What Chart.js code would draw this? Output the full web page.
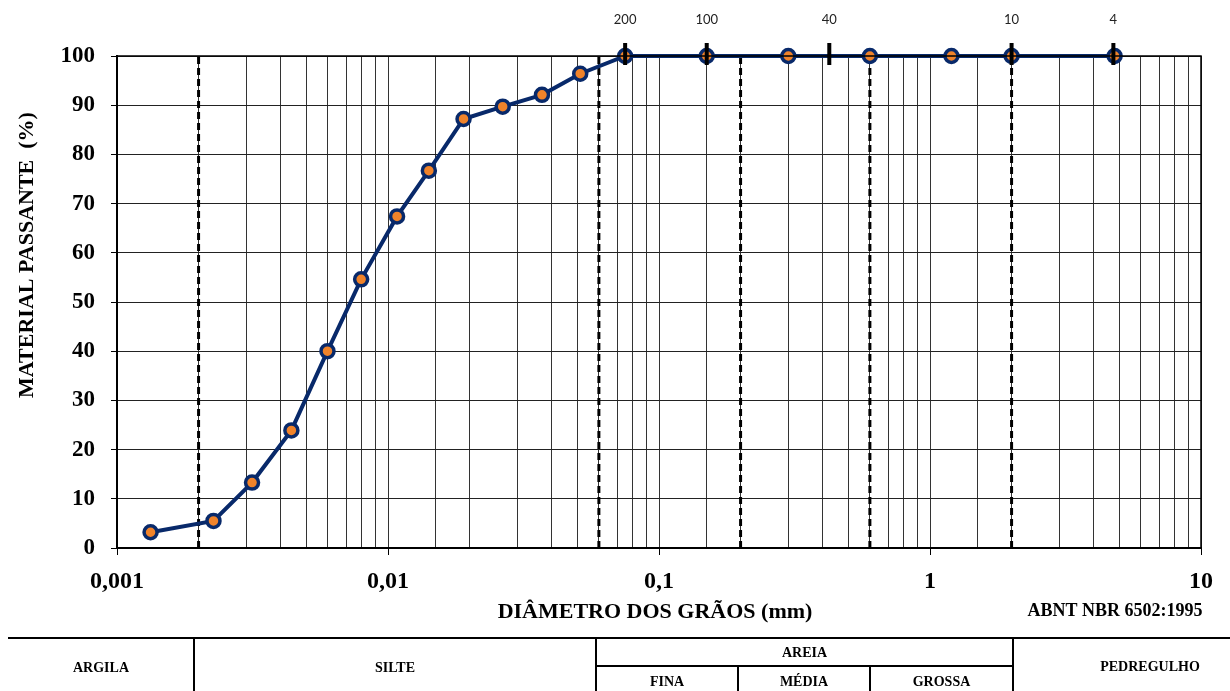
<!DOCTYPE html>
<html>
<head>
<meta charset="utf-8">
<script src="https://cdn.jsdelivr.net/npm/chart.js@4"></script>
<style>
  body { margin: 0; background: #fff; }
  #wrap { width: 1230px; height: 691px; }
</style>
</head>
<body>
<div id="wrap"><canvas id="curva" width="1230" height="691"></canvas></div>
<script>
// curva granulométrica - diâmetro (mm) x % passante
const diametros = [0.00133, 0.00227, 0.00315, 0.0044, 0.00598, 0.00796, 0.0108, 0.01415, 0.019, 0.0265, 0.037, 0.0512, 0.075, 0.15, 0.3, 0.6, 1.2, 2.0, 4.8];
const passante = [3.2, 5.5, 13.3, 23.9, 40.0, 54.6, 67.4, 76.7, 87.2, 89.7, 92.1, 96.4, 100, 100, 100, 100, 100, 100, 100];

// limites das frações (ABNT NBR 6502)
const limites = [0.002, 0.06, 0.2, 0.6, 2.0];

// peneiras
const peneiras = ['200', '100', '40', '10', '4'];
const aberturas = [0.075, 0.15, 0.425, 2.0, 4.75];

const xTickValues = [0.001, 0.01, 0.1, 1, 10];
const xTickLabels = ['0,001', '0,01', '0,1', '1', '10'];

const tituloY = 'MATERIAL PASSANTE  (%)';
const tituloX = 'DIÂMETRO DOS GRÃOS (mm)';
const norma = 'ABNT NBR 6502:1995';

const NAVY = '#08296a';
const SERIF = '"Liberation Serif", "Times New Roman", serif';

function isDecade(v) {
    const l = Math.log10(v);
    return Math.abs(l - Math.round(l)) < 1e-6;
}

const datasets = [{
    label: 'Curva',
    data: diametros.map((d, i) => ({ x: d, y: passante[i] })),
    borderColor: NAVY,
    borderWidth: 4,
    pointRadius: 6.5,
    pointBorderWidth: 3.5,
    pointBackgroundColor: '#f0832a',
    pointBorderColor: NAVY,
    tension: 0,
    clip: false,
    order: 1
}];
limites.forEach(l => {
    datasets.push({
        label: 'lim',
        data: [{ x: l, y: 0 }, { x: l, y: 100 }],
        borderColor: '#000',
        borderWidth: 3,
        borderDash: [7, 4],
        pointRadius: 0,
        order: 2
    });
});

const extras = {
    id: 'extras',
    afterDraw(chart) {
        const ctx = chart.ctx;
        const a = chart.chartArea;
        const x = chart.scales.x;
        ctx.save();
        // moldura topo/direita
        ctx.strokeStyle = '#000';
        ctx.lineWidth = 1.5;
        ctx.beginPath();
        ctx.moveTo(a.left, a.top);
        ctx.lineTo(a.right, a.top);
        ctx.lineTo(a.right, a.bottom);
        ctx.stroke();

        // marcas das peneiras
        const y100 = chart.scales.y.getPixelForValue(100);
        ctx.font = '13px Lato, "DejaVu Sans", sans-serif';
        ctx.textAlign = 'center';
        ctx.textBaseline = 'middle';
        aberturas.forEach((ab, i) => {
            const px = x.getPixelForValue(ab);
            ctx.fillStyle = '#000';
            ctx.fillRect(px - 2, y100 - 13, 4, 22);
            ctx.fillStyle = '#222';
            ctx.fillText(peneiras[i], px, 20);
        });

        // títulos
        ctx.fillStyle = '#000';
        ctx.font = 'bold 22px ' + SERIF;
        ctx.fillText(tituloX, 655, 612);
        ctx.font = 'bold 18px ' + SERIF;
        ctx.fillText(norma, 1115, 611);
        ctx.save();
        ctx.translate(27, 255);
        ctx.rotate(-Math.PI / 2);
        ctx.font = 'bold 22px ' + SERIF;
        ctx.fillText(tituloY, 0, 0);
        ctx.restore();

        // tabela de classificação
        const top = 638, mid = 666, bot = 700;
        const cols = [8, 194, 596, 738, 870, 1013, 1230];
        ctx.strokeStyle = '#000';
        ctx.lineWidth = 2;
        ctx.beginPath();
        ctx.moveTo(cols[0], top); ctx.lineTo(1230, top);
        ctx.moveTo(cols[2], mid); ctx.lineTo(cols[5], mid);
        [1, 2, 5].forEach(c => { ctx.moveTo(cols[c], top); ctx.lineTo(cols[c], bot); });
        [3, 4].forEach(c => { ctx.moveTo(cols[c], mid); ctx.lineTo(cols[c], bot); });
        ctx.stroke();

        ctx.font = 'bold 14px ' + SERIF;
        ctx.fillText('ARGILA', (cols[0] + cols[1]) / 2, 668);
        ctx.fillText('SILTE', (cols[1] + cols[2]) / 2, 668);
        ctx.fillText('AREIA', (cols[2] + cols[5]) / 2, 653);
        ctx.fillText('FINA', (cols[2] + cols[3]) / 2, 682);
        ctx.fillText('MÉDIA', (cols[3] + cols[4]) / 2, 682);
        ctx.fillText('GROSSA', (cols[4] + cols[5]) / 2, 682);
        ctx.fillText('PEDREGULHO', 1150, 667);
        ctx.restore();
    }
};

new Chart(document.getElementById('curva'), {
    type: 'line',
    data: { datasets: datasets },
    options: {
        responsive: false,
        animation: false,
        layout: { padding: { top: 56, right: 29, left: 0, bottom: 0 } },
        plugins: {
            legend: { display: false },
            tooltip: { enabled: false }
        },
        scales: {
            x: {
                type: 'logarithmic',
                min: 0.001,
                max: 10,
                afterFit: s => { s.height = 143; },
                border: { color: '#000', width: 2 },
                grid: {
                    color: '#333',
                    lineWidth: 1,
                    tickLength: 7,
                    tickColor: c => (c.tick && isDecade(c.tick.value)) ? '#000' : 'rgba(0,0,0,0)'
                },
                ticks: {
                    autoSkip: false,
                    maxRotation: 0,
                    padding: 12,
                    color: '#000',
                    font: { family: SERIF, size: 24, weight: 'bold' },
                    callback: function (value) {
                        const i = xTickValues.findIndex(v => Math.abs(Math.log10(v) - Math.log10(value)) < 1e-6);
                        return i >= 0 ? xTickLabels[i] : '';
                    }
                }
            },
            y: {
                min: 0,
                max: 100,
                afterFit: s => { s.width = 117; },
                border: { color: '#000', width: 2 },
                grid: { color: '#222', lineWidth: 1, tickLength: 6, tickColor: '#000' },
                ticks: {
                    stepSize: 10,
                    padding: 16,
                    color: '#000',
                    font: { family: SERIF, size: 23, weight: 'bold' }
                }
            }
        }
    },
    plugins: [extras]
});
</script>
</body>
</html>
